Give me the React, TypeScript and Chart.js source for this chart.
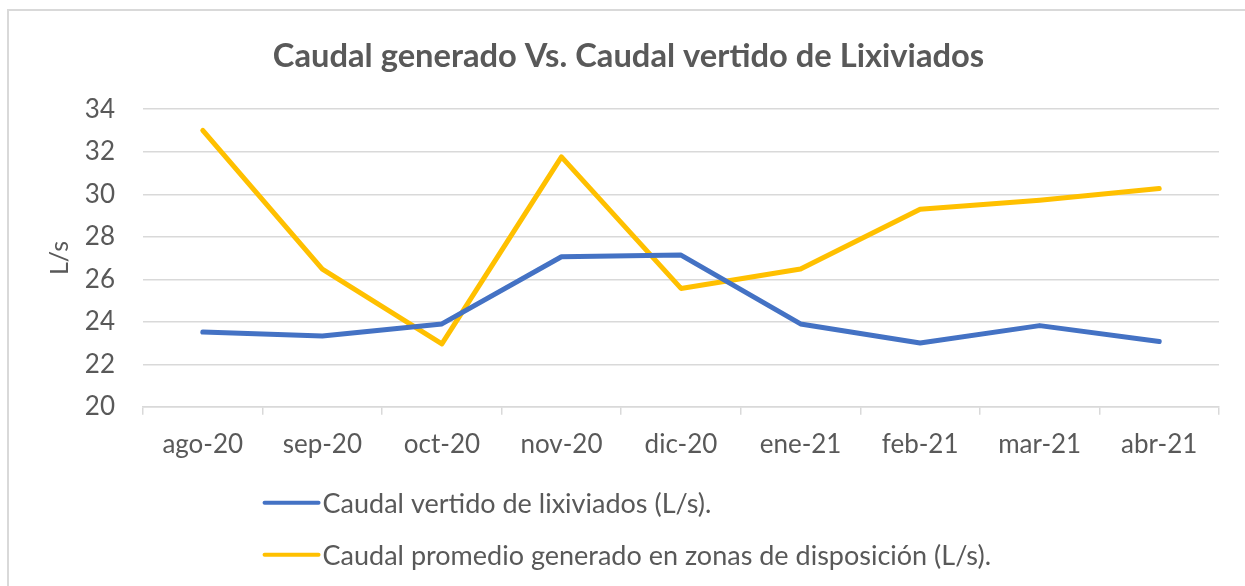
import React, { useEffect, useRef } from "react";
import { Chart, registerables } from "chart.js";

Chart.register(...registerables);

const categories = ["ago-20", "sep-20", "oct-20", "nov-20", "dic-20", "ene-21", "feb-21", "mar-21", "abr-21"];
const vertido = [23.52, 23.33, 23.9, 27.06, 27.14, 23.9, 23.0, 23.82, 23.07];
const generado = [33.01, 26.48, 22.96, 31.76, 25.57, 26.48, 29.29, 29.72, 30.27];
const yTicks = [20, 22, 24, 26, 28, 30, 32, 34];
const titleText = "Caudal generado Vs. Caudal vertido de Lixiviados";
const labelVertido = "Caudal vertido de lixiviados (L/s).";
const labelGenerado = "Caudal promedio generado en zonas de disposición (L/s).";

const FONT = "Lato, 'Open Sans', sans-serif";
const GREY = "#595959";
const GRID = "#d9d9d9";

const legendPlugin = {
  id: "customLegend",
  afterDraw(chart: any) {
    const { ctx, chartArea } = chart;
    const step = (chartArea.right - chartArea.left) / categories.length;
    const x0 = chartArea.left + step;
    const rows = [chartArea.bottom + 96, chartArea.bottom + 148];
    ctx.save();
    chart.data.datasets.forEach((ds: any, i: number) => {
      const y = rows[i];
      ctx.beginPath();
      ctx.strokeStyle = ds.borderColor;
      ctx.lineWidth = 4;
      ctx.lineCap = "round";
      ctx.moveTo(x0 + 2, y);
      ctx.lineTo(x0 + 56, y);
      ctx.stroke();
      ctx.fillStyle = GREY;
      ctx.font = `27px ${FONT}`;
      ctx.textAlign = "left";
      ctx.textBaseline = "middle";
      ctx.fillText(ds.label, x0 + 60, y + 1);
    });
    ctx.restore();
  },
};

export default function App() {
  const ref = useRef<HTMLCanvasElement | null>(null);
  useEffect(() => {
    if (!ref.current) return;
    const chart = new Chart(ref.current, {
      type: "line",
      data: {
        labels: categories,
        datasets: [
          {
            label: labelVertido,
            data: vertido,
            borderColor: "#4472C4",
            backgroundColor: "#4472C4",
            borderWidth: 5,
            pointRadius: 0,
            borderCapStyle: "round",
            borderJoinStyle: "round",
            tension: 0,
          },
          {
            label: labelGenerado,
            data: generado,
            borderColor: "#FFC000",
            backgroundColor: "#FFC000",
            borderWidth: 5,
            pointRadius: 0,
            borderCapStyle: "round",
            borderJoinStyle: "round",
            tension: 0,
          },
        ],
      },
      options: {
        animation: false,
        responsive: false,
        maintainAspectRatio: false,
        layout: { padding: { left: 38, right: 26, top: 37, bottom: 112 } },
        plugins: {
          legend: { display: false },
          tooltip: { enabled: false },
          title: {
            display: true,
            text: titleText,
            color: GREY,
            font: { family: FONT, size: 32.7, weight: "bold" },
            padding: { top: 0, bottom: 33 },
          },
        },
        scales: {
          x: {
            offset: true,
            grid: {
              offset: true,
              drawOnChartArea: false,
              drawTicks: true,
              tickLength: 8,
              color: GRID,
              lineWidth: 1.5,
            },
            border: { display: true, color: GRID, width: 1.5 },
            ticks: { color: GREY, font: { family: FONT, size: 26 }, padding: 14, maxRotation: 0, autoSkip: false },
          },
          y: {
            min: 20,
            max: 34,
            afterFit: (s: any) => {
              s.width = 105;
            },
            afterBuildTicks: (s: any) => {
              s.ticks = yTicks.map((v) => ({ value: v }));
            },
            grid: { color: GRID, lineWidth: 1.5, drawTicks: false },
            border: { display: false },
            ticks: { color: GREY, font: { family: FONT, size: 26 }, padding: 28 },
            title: {
              display: true,
              text: "L/s",
              color: GREY,
              font: { family: FONT, size: 25 },
              padding: { top: 7, bottom: 0 },
            },
          },
        },
      },
      plugins: [legendPlugin],
    });
    return () => chart.destroy();
  }, []);
  return (
    <div style={{ position: "fixed", left: 0, top: 0, width: 1245, height: 586, overflow: "hidden", background: "#fff" }}>
      <div
        style={{
          position: "absolute",
          left: 7,
          top: 9,
          width: 1400,
          height: 800,
          border: `2px solid ${GRID}`,
          boxSizing: "border-box",
        }}
      />
      <canvas ref={ref} width={1245} height={586} style={{ position: "absolute", left: 0, top: 0 }} />
    </div>
  );
}
